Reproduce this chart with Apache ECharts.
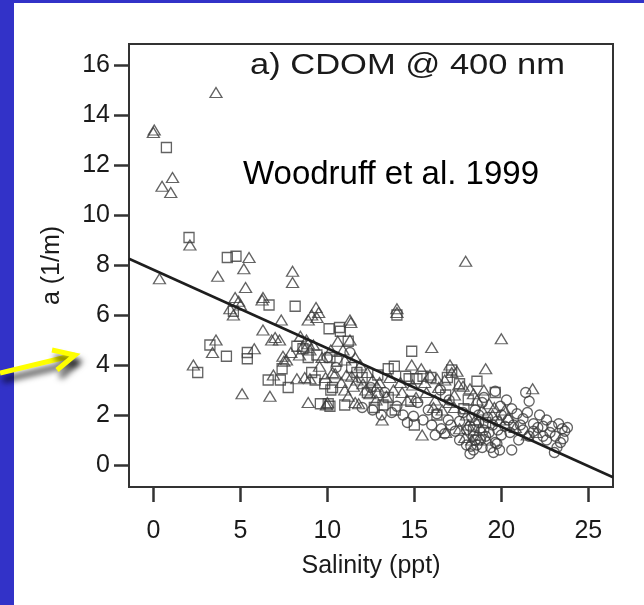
<!DOCTYPE html>
<html>
<head>
<meta charset="utf-8">
<script src="https://cdn.jsdelivr.net/npm/echarts@6/dist/echarts.min.js"></script>
<style>
html,body{margin:0;padding:0;background:#ffffff;}
#chart{width:644px;height:605px;}
</style>
</head>
<body>
<div id="chart"></div>
<script>
// ---- data ----
const xTicks = [0, 5, 10, 15, 20, 25];
const yTicks = [0, 2, 4, 6, 8, 10, 12, 14, 16];

const triangles = [
  [3.6,14.9],[0.05,13.4],[0.0,13.3],[1.1,11.5],[0.5,11.15],[1.0,10.9],[2.1,8.8],[5.5,8.3],[0.35,7.45],[3.7,7.55],
  [5.2,7.85],[8.0,7.75],[8.0,7.3],[5.3,7.1],[17.95,8.15],[14.0,6.25],[14.0,6.1],[20.0,5.05],[16.0,4.7],[19.1,3.85],
  [21.8,3.05],[2.3,4.0],[3.6,5.0],[3.4,4.5],[5.8,4.65],[5.1,2.85],[6.7,2.75],
  [4.4,6.25],[4.7,6.7],[4.9,6.55],[5.0,6.4],[4.6,6.0],[6.3,6.7],[6.25,6.6],
  [7.35,5.8],[6.3,5.4],[6.8,5.0],[7.25,5.0],[7.0,5.1],[8.45,5.15],[8.8,5.0],[8.6,4.75],[8.9,4.85],[9.0,4.6],
  [9.35,6.3],[9.1,6.0],[9.4,5.9],[8.9,5.8],[9.5,6.1],[7.45,4.35],[7.65,4.2],[7.5,4.15],[9.7,4.3],[9.55,3.95],
  [8.25,3.45],[8.7,3.5],[9.0,3.45],[8.9,2.5],[9.95,2.4],[10.0,2.5],
  [10.45,3.65],[11.0,4.2],[11.3,5.8],[11.3,5.0],[11.35,5.7],[10.6,4.95],[11.5,3.15],[11.4,3.55],[11.7,3.4],[12.05,3.25],
  [11.8,2.45],[12.45,2.85],[12.8,2.6],[11.6,2.5],[11.2,2.75],[13.15,1.8],[12.3,3.7],[11.9,4.0],[12.6,3.4],[13.0,3.3],
  [10.8,3.3],[11.0,3.0],
  [14.85,4.0],[15.4,3.85],[15.9,3.6],[16.3,3.45],[16.75,3.4],[17.05,4.0],[17.15,3.7],[17.45,3.75],[17.55,3.2],[17.8,3.15],
  [18.2,3.05],[18.4,2.85],[13.4,2.75],[12.85,3.15],[14.3,2.9],[14.6,2.6],[15.1,2.7],[15.7,2.9],[16.2,2.6],[16.6,2.2],
  [17.0,2.5],[17.3,2.3],[15.45,1.2],[16.8,1.3],[17.6,1.45],[18.0,2.0],[18.5,1.8],[18.9,2.2],[19.3,2.45],[19.5,2.0],
  [19.9,1.8],[20.4,1.9],[20.8,1.5],[21.5,1.2],[22.0,1.3],[18.6,1.2],[18.3,1.0],[13.6,3.5],[14.2,3.3],
  [9.2,4.8],[10.2,4.6],[10.9,4.6],[11.6,4.3],[12.2,3.0],[12.9,2.9],[13.8,3.0],[14.9,3.2],[15.6,3.3],[16.4,3.1],
  [17.3,2.8],[18.6,2.6],[19.0,3.0],[19.6,2.3],[20.2,2.2],[18.1,1.6],[18.8,1.5],[17.9,1.1],[19.2,1.0],[16.1,2.3],
  [8.4,4.4],[7.9,4.5],[10.3,3.7],[9.9,3.5],[6.9,3.6],[11.1,3.6]
];

const squares = [
  [0.75,12.7],[2.05,9.1],[4.25,8.3],[4.75,8.35],[14.0,6.0],[14.85,4.55],[2.55,3.7],[3.25,4.8],[4.2,4.35],[5.4,4.5],
  [5.4,4.25],[6.65,6.4],[8.15,6.35],[10.1,5.45],[10.7,5.5],[10.75,5.35],[8.25,4.75],[8.6,4.65],[11.2,4.95],[9.4,4.4],
  [10.15,4.3],[10.55,4.15],[7.4,3.85],[6.6,3.4],[7.3,3.4],[7.75,3.1],[9.85,3.25],[10.3,3.1],[10.2,3.0],[9.6,2.45],
  [10.15,2.35],[10.05,2.45],[13.5,3.85],[13.85,3.95],[13.5,2.7],[14.5,3.55],[14.7,3.45],[15.15,3.45],[15.5,3.55],[15.95,3.5],
  [17.15,3.8],[17.6,3.25],[18.6,3.35],[19.65,2.9],[14.8,2.55],[16.3,2.0],[17.85,2.25],[12.3,2.9],[12.0,3.5],[11.4,3.9],
  [9.1,3.7],[12.7,2.3],[13.2,2.4],[4.6,6.15],[15.0,1.6],[16.8,2.8],
  [8.9,4.3],[9.3,3.4],[11.7,3.7],[12.9,3.6],[16.9,3.5],[18.1,2.6],[19.1,1.7],[18.4,1.4],[13.9,2.2],[11.0,2.4]
];

const circles = [
  [10.0,4.3],[10.5,3.9],[11.3,4.5],[12.0,2.3],[12.6,2.2],[13.1,2.0],[13.7,2.1],[14.0,2.35],[14.35,2.0],[14.95,1.95],
  [15.5,1.8],[16.0,1.6],[16.3,2.05],[16.55,1.45],[16.75,1.25],[17.35,1.35],[16.95,1.8],[17.6,1.75],[18.2,1.55],[18.4,1.15],
  [18.6,0.8],[18.0,1.4],[18.8,1.0],[18.2,0.45],[18.25,0.75],[18.5,2.2],[18.9,2.5],[19.2,1.9],[19.0,1.4],[19.4,0.7],
  [19.75,0.85],[19.55,0.5],[19.65,2.95],[19.95,2.35],[20.6,2.25],[20.9,2.05],[21.25,1.85],[21.85,1.65],[22.4,1.55],[22.9,1.55],
  [23.3,1.65],[23.5,1.45],[23.65,1.35],[23.55,1.05],[23.1,1.15],[22.4,1.15],[21.85,1.35],[21.25,1.4],[20.7,1.6],[20.2,1.55],
  [19.75,1.75],[19.65,0.9],[20.6,0.6],[23.05,0.5],[21.4,2.9],[21.6,2.55],[17.0,2.6],[17.8,2.1],[19.0,2.7],[20.3,2.6],
  [22.2,2.0],[15.2,2.5],[14.6,1.7],[13.3,2.9],[12.5,3.1],[16.5,3.0],[20.0,1.2],[21.0,1.0],[22.6,1.8],[23.4,0.9],
  [19.3,1.3],[18.7,1.7],
  [18.0,0.8],[18.4,0.6],[18.9,0.7],[19.1,1.15],[18.3,1.9],[18.7,2.0],[19.5,1.6],[20.0,2.0],[20.5,1.3],[21.1,1.6],
  [21.6,1.15],[22.1,1.5],[22.8,1.3],[23.8,1.5],[23.2,0.7],[19.9,0.6],[17.6,1.0],[17.1,1.6],[16.2,1.2],[15.8,2.2],
  [20.4,1.8],[21.5,2.1],[22.6,1.0],[19.8,1.4],[18.5,1.0]
];

// fitted regression line endpoints (as drawn)
const fitLine = [[-1.4, 8.25], [26.42, -0.49]];

const titleText = 'a) CDOM @ 400 nm';
const creditText = 'Woodruff et al. 1999';
const xName = 'Salinity (ppt)';
const yName = 'a (1/m)';

// ---- chart ----
const chart = echarts.init(document.getElementById('chart'), null, {renderer: 'canvas'});
const FONT = '"Liberation Sans", Arial, Helvetica, sans-serif';
const markStroke = '#3c3c3c';
const frameColor = '#333333';
const arrowShadow = {shadowColor: 'rgba(0,0,0,0.75)', shadowBlur: 6, shadowOffsetX: 3, shadowOffsetY: 7};

const option = {
  animation: false,
  grid: {
    left: 129, top: 44, width: 484, height: 443,
    show: true, borderColor: frameColor, borderWidth: 2
  },
  xAxis: {
    type: 'value', min: -1.4, max: 26.42,
    name: xName, nameLocation: 'middle', nameGap: 67,
    nameTextStyle: {fontFamily: FONT, fontSize: 25, color: '#1a1a1a'},
    axisLine: {show: true, onZero: false, lineStyle: {color: frameColor, width: 2}},
    splitLine: {show: false},
    axisTick: {show: true, length: 15, customValues: xTicks, lineStyle: {color: frameColor, width: 2.5}},
    axisLabel: {customValues: xTicks, margin: 32, fontFamily: FONT, fontSize: 25, color: '#1a1a1a'}
  },
  yAxis: {
    type: 'value', min: -0.88, max: 16.84,
    name: yName, nameLocation: 'middle', nameGap: 64, nameRotate: 90,
    nameTextStyle: {fontFamily: FONT, fontSize: 25, color: '#1a1a1a'},
    axisLine: {show: true, onZero: false, lineStyle: {color: frameColor, width: 2}},
    splitLine: {show: false},
    axisTick: {show: true, length: 15, customValues: yTicks, lineStyle: {color: frameColor, width: 2.5}},
    axisLabel: {customValues: yTicks, margin: 19, fontFamily: FONT, fontSize: 25, color: '#1a1a1a'}
  },
  series: [
    {
      name: 'fit', type: 'line', data: fitLine, symbol: 'none', silent: true, z: 3,
      lineStyle: {color: '#1e1e1e', width: 2.5}
    },
    {
      name: 'triangles', type: 'scatter', data: triangles, symbol: 'triangle', symbolSize: [12, 10], z: 2,
      itemStyle: {color: 'rgba(0,0,0,0)', borderColor: markStroke, borderWidth: 1.3}
    },
    {
      name: 'squares', type: 'scatter', data: squares, symbol: 'rect', symbolSize: 10, z: 2,
      itemStyle: {color: 'rgba(0,0,0,0)', borderColor: markStroke, borderWidth: 1.3}
    },
    {
      name: 'circles', type: 'scatter', data: circles, symbol: 'circle', symbolSize: 10, z: 2,
      itemStyle: {color: 'rgba(0,0,0,0)', borderColor: markStroke, borderWidth: 1.3}
    }
  ],
  graphic: [
    {type: 'rect', left: 0, top: 0, shape: {width: 14, height: 605}, style: {fill: '#3232c8'}, z: 10},
    {type: 'rect', left: 0, top: 0, shape: {width: 644, height: 3}, style: {fill: '#3232c8'}, z: 10},
    {type: 'text', x: 250, y: 66, scaleX: 1.19, z: 10,
      style: {text: titleText, font: '29px ' + FONT, fill: '#1a1a1a', verticalAlign: 'middle', align: 'left'}},
    {type: 'text', x: 243, y: 175, z: 10,
      style: {text: creditText, font: '33px ' + FONT, fill: '#000', verticalAlign: 'middle', align: 'left'}},
    {type: 'polyline', z: 30, shape: {points: [[0, 373], [75, 355]]},
      style: Object.assign({stroke: '#ffff00', lineWidth: 5}, arrowShadow)},
    {type: 'polyline', z: 30, shape: {points: [[52, 350], [75, 355], [57, 370]]},
      style: Object.assign({stroke: '#ffff00', lineWidth: 5, lineJoin: 'miter', fill: null}, arrowShadow)}
  ]
};
chart.setOption(option);
</script>
</body>
</html>
